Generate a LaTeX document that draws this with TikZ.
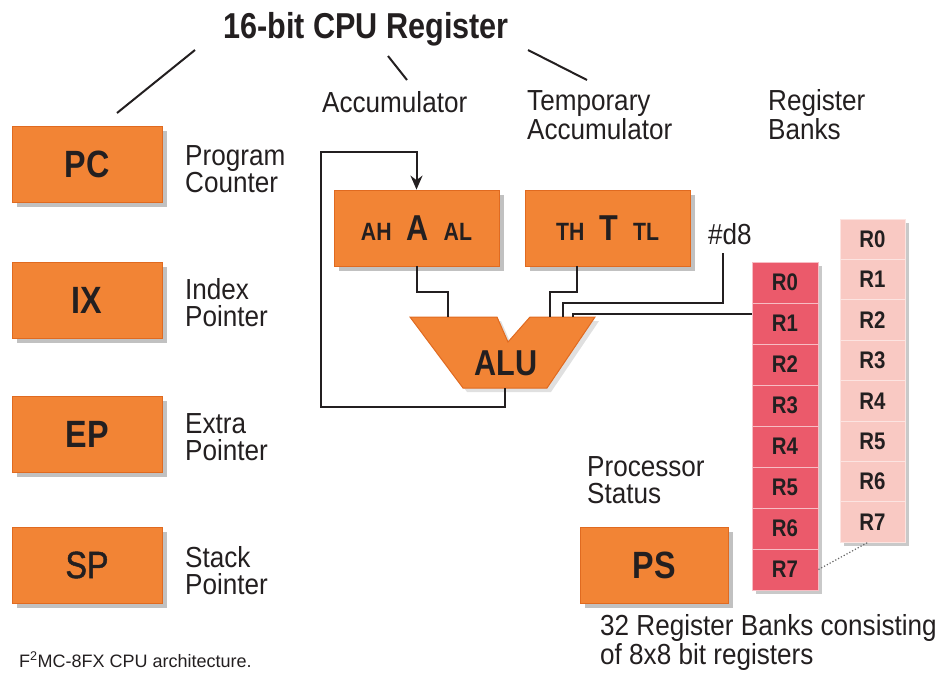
\documentclass[tikz,border=0pt]{standalone}
\usepackage{fontspec}
\setmainfont{Liberation Sans}
\newfontfamily\cond[FakeStretch=0.85]{Liberation Sans}
\newfontfamily\condlbl[FakeStretch=0.9]{Liberation Sans}
\newfontfamily\condmed[FakeStretch=0.85, FakeBold=1.2]{Liberation Sans}
\usetikzlibrary{shadows,arrows.meta}
\definecolor{org}{HTML}{F28435}
\definecolor{orgdark}{HTML}{E06A20}
\definecolor{rdark}{HTML}{EB5A6B}
\definecolor{rpink}{HTML}{F9C9C3}
\definecolor{ink}{HTML}{231F20}
\tikzset{
  regbox/.style={draw=orgdark, line width=0.8pt, fill=org, minimum width=150pt, minimum height=76pt,
    inner sep=0pt, font=\cond\bfseries\fontsize{38}{38}\selectfont, text=ink,
    drop shadow={shadow xshift=5pt, shadow yshift=-5pt, opacity=0.35, fill=black!70}},
  accbox/.style={regbox, minimum width=165pt},
  cellA/.style={draw=white!60!rdark, line width=0.8pt, fill=rdark, minimum width=66pt, minimum height=41pt,
    inner sep=0pt, font=\cond\bfseries\fontsize{24}{24}\selectfont, text=ink,
    drop shadow={shadow xshift=4pt, shadow yshift=-4pt, opacity=0.3, fill=black!70}},
  cellB/.style={cellA, draw=white!50!rpink, fill=rpink, minimum width=65pt, minimum height=40.4pt},
  lbl/.style={anchor=base west, inner sep=0pt, font=\condlbl\fontsize{29}{27}\selectfont, text=ink, align=left},
  wire/.style={line width=2pt, draw=ink},
}
\begin{document}
\begin{tikzpicture}[x=1pt, y=-1pt]
\useasboundingbox (0,0) rectangle (945,673);
% title
\node[anchor=base, inner sep=0pt, font=\cond\bfseries\fontsize{36}{36}\selectfont, text=ink] (title) at (366,38) {16-bit CPU Register};
\coordinate (t1a) at (195,50); \coordinate (t1b) at (117,113);
\coordinate (t2a) at (388,56); \coordinate (t2b) at (407,80);
\coordinate (t3a) at (528,50); \coordinate (t3b) at (587,80);
\draw[wire] (t1a) -- (t1b);
\draw[wire] (t2a) -- (t2b);
\draw[wire] (t3a) -- (t3b);
% left registers
\node[regbox] (pc) at (87,164) {PC};
\node[regbox] (ix) at (87,300) {IX};
\node[regbox] (ep) at (87,434) {EP};
\node[regbox, font=\condmed\fontsize{38}{38}\selectfont] (sp) at (87,565) {SP};
% two-line labels: position = baseline of the second line
\node[lbl] (pcl) at (185,192) {Program\\Counter};
\node[lbl] (ixl) at (185,326) {Index\\Pointer};
\node[lbl] (epl) at (185,460) {Extra\\Pointer};
\node[lbl] (spl) at (185,594) {Stack\\Pointer};
% top labels
\node[lbl] (accl) at (322,112) {Accumulator};
\node[lbl] (tmpl) at (527,139) {Temporary\\Accumulator};
\node[lbl] (rbl) at (768,139) {Register\\Banks};
% A and T
\node[accbox] (A) at (416.5,228) {\fontsize{25}{25}\selectfont AH\hspace{15pt}\fontsize{36}{36}\selectfont A\hspace{15pt}\fontsize{25}{25}\selectfont AL};
\node[accbox] (T) at (607.5,228) {\fontsize{25}{25}\selectfont TH\hspace{15pt}\fontsize{36}{36}\selectfont T\hspace{15pt}\fontsize{25}{25}\selectfont TL};
\node[lbl] (d8) at (708,244) {\#d8};
% ALU
\fill[black, opacity=0.12] (414,321) -- (501,321) -- (512,346) -- (534,321) -- (599,321) -- (551,392) -- (467,392) -- cycle;
\draw[orgdark, line width=1pt, fill=org] (410,317) -- (497,317) -- (508,342) -- (530,317) -- (595,317) -- (547,388) -- (463,388) -- cycle;
\node[inner sep=0pt, font=\cond\bfseries\fontsize{36}{36}\selectfont, text=ink] (alu) at (506,363) {ALU};
% wires
\coordinate (ainA) at (448,317);
\coordinate (ainT) at (550,317);
\coordinate (aind) at (563,317);
\coordinate (ainR) at (573,317);
\coordinate (aout) at (505,388);
\coordinate (fbl) at (321,407);
\coordinate (fbt) at (321,152);
\coordinate (d8out) at (723,253);
\draw[wire] (A.south) -- ++(0,26) -| (ainA);
\draw[wire] ([xshift=-30.5pt]T.south) -- ++(0,26) -| (ainT);
\draw[wire] (d8out) |- (563,303) -- (aind);
% register banks
\foreach \i in {0,...,7} {
  \node[cellB] (p\i) at (872.5,{239.2+40.4*\i}) {R\i};
}
\foreach \i in {0,...,7} {
  \node[cellA] (r\i) at (785,{282.5+41*\i}) {R\i};
}
\draw[wire] ([yshift=10pt]r1.west) -| (ainR);
\draw[wire, -{Stealth[length=14pt,width=12pt]}] (aout) |- (fbl) -- (fbt) -| (A.north);
\draw[black!60, line width=1.2pt, dotted] (r7.east) -- ([xshift=-5pt]p7.south);
% PS
\node[regbox, minimum width=148pt] (ps) at (654,565) {PS};
\node[lbl] (psl) at (587,503) {Processor\\Status};
\node[lbl] (rbn) at (600,664) {32 Register Banks consisting\\of 8x8 bit registers};
% caption
\node[anchor=base west, inner sep=0pt, font=\fontsize{18}{18}\selectfont, text=ink] (cap) at (19,667) {F\textsuperscript{2}MC-8FX CPU architecture.};
\end{tikzpicture}
\end{document}
